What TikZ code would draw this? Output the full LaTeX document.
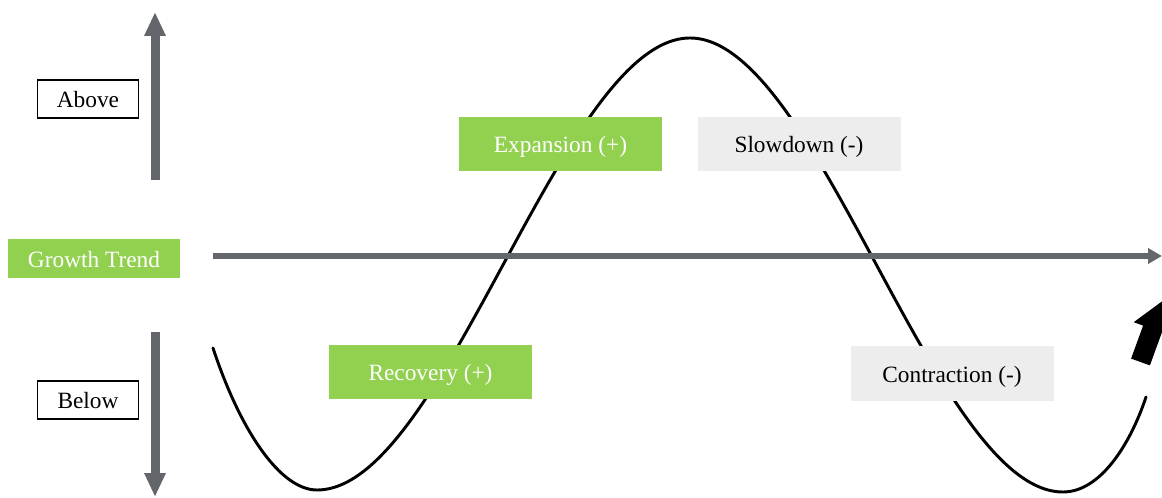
\documentclass[tikz,border=0pt]{standalone}
\usepackage{fontspec}
\setmainfont{Liberation Serif}
\usetikzlibrary{arrows.meta}
\definecolor{phasegreen}{HTML}{92D050}
\definecolor{phasegrey}{HTML}{EDEDED}
\definecolor{axisgrey}{HTML}{63666A}
\begin{document}
\begin{tikzpicture}[x=0.75pt, y=-0.75pt,
  every node/.style={font=\fontsize{17.5}{20}\selectfont, inner sep=0pt, text height=16.6pt, text depth=3.8pt},
  levelbox/.style={draw=black, line width=1.3pt, fill=white, minimum width=75.75pt, minimum height=28.5pt},
  greenbox/.style={fill=phasegreen, text=white, minimum width=152.25pt, minimum height=40.5pt},
  greybox/.style={fill=phasegrey, text=black, minimum width=152.25pt, minimum height=40.5pt},
  vaxis/.style={axisgrey, line width=6.75pt, -{Triangle[length=18pt, width=15pt]}}]
\useasboundingbox (0,0) rectangle (1162,498);
\clip (0,0) rectangle (1162,498);
% cycle curve
\draw[line width=2.2pt, line cap=round] (213,348)
  .. controls (240,430) and (280,490) .. (317,490)
  .. controls (445,490) and (562,38) .. (690,38)
  .. controls (818,38) and (935,492) .. (1063,492)
  .. controls (1100,492) and (1130,445) .. (1146,397);
% block arrow, cut by the page edge
\fill (1131.1,358.6) -- (1143.1,325.6) -- (1133.7,322.2) -- (1162.8,300.8)
  -- (1171.3,335.8) -- (1161.9,332.4) -- (1149.9,365.4) -- cycle;
% level axes
\coordinate (uptail) at (155,180);
\coordinate (uptip) at (155,12);
\coordinate (downtail) at (155,332);
\coordinate (downtip) at (155,497);
\draw[vaxis] (uptail) -- (uptip);
\draw[vaxis] (downtail) -- (downtip);
\node[levelbox] (above) at (88,99) {Above};
\node[levelbox] (below) at (88,400) {Below};
% trend line
\node[greenbox, minimum width=129pt, minimum height=29.25pt] (trend) at (94,259) {Growth Trend};
\coordinate (trendtail) at (213,256);
\coordinate (trendtip) at (1162,256);
\draw[axisgrey, line width=4.5pt, -{Triangle[length=10.5pt, width=11.25pt]}]
  (trendtail) -- (trendtip);
% phases
\node[greenbox] (expansion) at (560.5,144) {Expansion (+)};
\node[greybox] (slowdown) at (799,144) {Slowdown (-)};
\node[greenbox] (recovery) at (430.5,372) {Recovery (+)};
\node[greybox] (contraction) at (952,373.5) {Contraction (-)};
\end{tikzpicture}
\end{document}
